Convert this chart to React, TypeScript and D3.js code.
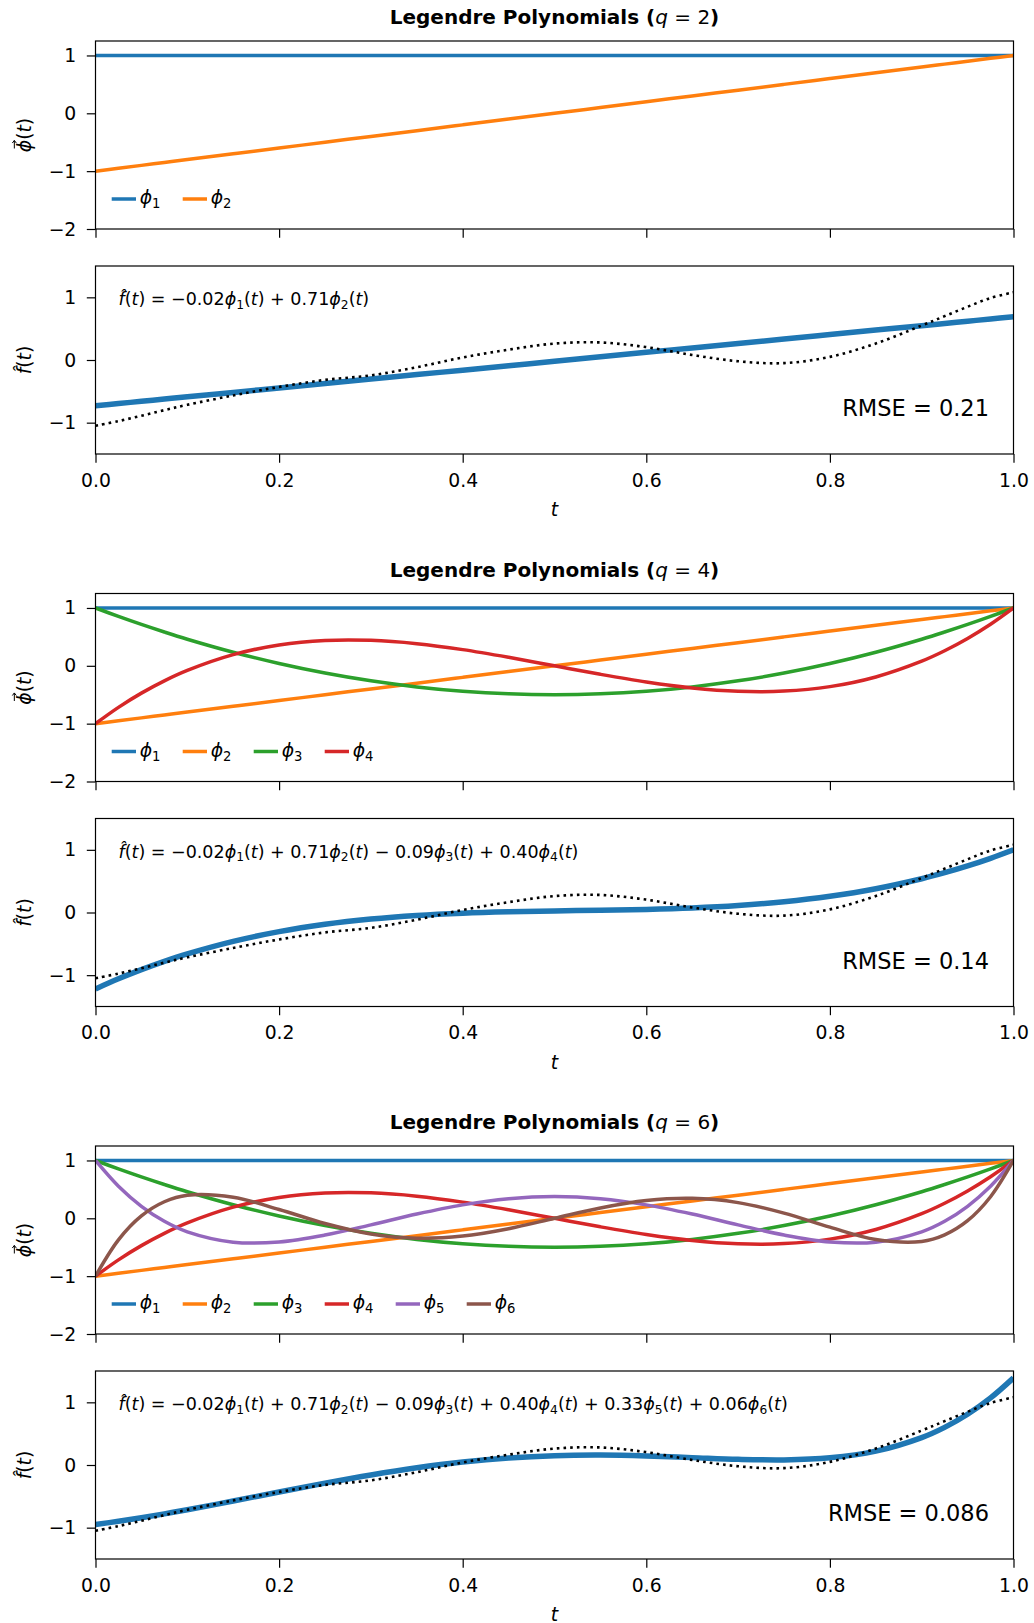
import React, { useEffect, useRef } from "react";
import * as d3 from "d3";

// sample positions along t (denser near the ends where the high-order polynomials bend)
const T = [0, 0.025, 0.05, 0.075, 0.1, 0.15, 0.2, 0.25, 0.3, 0.35, 0.4, 0.45, 0.5, 0.55, 0.6, 0.65, 0.7, 0.75, 0.8, 0.85, 0.9, 0.925, 0.95, 0.975, 1];

// shifted Legendre basis, read at the T positions
const PHI_1 = [1, 1, 1, 1, 1, 1, 1, 1, 1, 1, 1, 1, 1, 1, 1, 1, 1, 1, 1, 1, 1, 1, 1, 1, 1];
const PHI_2 = [-1, -0.95, -0.9, -0.85, -0.8, -0.7, -0.6, -0.5, -0.4, -0.3, -0.2, -0.1, 0, 0.1, 0.2, 0.3, 0.4, 0.5, 0.6, 0.7, 0.8, 0.85, 0.9, 0.95, 1];
const PHI_3 = [1, 0.854, 0.715, 0.584, 0.46, 0.235, 0.04, -0.125, -0.26, -0.365, -0.44, -0.485, -0.5, -0.485, -0.44, -0.365, -0.26, -0.125, 0.04, 0.235, 0.46, 0.584, 0.715, 0.854, 1];
const PHI_4 = [-1, -0.718, -0.4725, -0.26, -0.08, 0.1925, 0.36, 0.4375, 0.44, 0.3825, 0.28, 0.1475, 0, -0.1475, -0.28, -0.3825, -0.44, -0.4375, -0.36, -0.1925, 0.08, 0.26, 0.4725, 0.718, 1];
const PHI_5 = [1, 0.554, 0.208, -0.051, -0.233, -0.412, -0.408, -0.289, -0.113, 0.073, 0.232, 0.338, 0.375, 0.338, 0.232, 0.073, -0.113, -0.289, -0.408, -0.412, -0.233, -0.051, 0.208, 0.554, 1];
const PHI_6 = [-1, -0.373, 0.041, 0.286, 0.3995, 0.365, 0.153, -0.09, -0.271, -0.345, -0.3075, -0.179, 0, 0.179, 0.3075, 0.345, 0.271, 0.09, -0.153, -0.365, -0.3995, -0.286, -0.041, 0.373, 1];
const BASIS = [PHI_1, PHI_2, PHI_3, PHI_4, PHI_5, PHI_6];

// dotted target signal
const TARGET = [-1.05, -0.975, -0.89, -0.8, -0.715, -0.566, -0.43, -0.318, -0.245, -0.115, 0.04, 0.165, 0.262, 0.28, 0.205, 0.08, -0.02, -0.05, 0.05, 0.263, 0.55, 0.7, 0.85, 0.99, 1.08];

// fitted curves for q = 2, 4, 6
const FIT_Q2 = [-0.73, -0.6945, -0.659, -0.6235, -0.588, -0.517, -0.446, -0.375, -0.304, -0.233, -0.162, -0.091, -0.02, 0.051, 0.122, 0.193, 0.264, 0.335, 0.406, 0.477, 0.548, 0.5835, 0.619, 0.6545, 0.69];
const FIT_Q4 = [-1.22, -1.0586, -0.9124, -0.7801, -0.6614, -0.4612, -0.3056, -0.1887, -0.1046, -0.0471, -0.0104, 0.0117, 0.025, 0.0357, 0.0496, 0.0729, 0.1114, 0.1713, 0.2584, 0.3788, 0.5386, 0.6349, 0.7436, 0.8648, 1.0];
const FIT_Q6 = [-0.95, -0.8982, -0.8413, -0.7797, -0.7143, -0.5753, -0.431, -0.2895, -0.1582, -0.0437, 0.0477, 0.1125, 0.1488, 0.1579, 0.1447, 0.1177, 0.0904, 0.0813, 0.1146, 0.2209, 0.4377, 0.6009, 0.8097, 1.07, 1.39];
const FITS = [FIT_Q2, FIT_Q4, FIT_Q6];

const Q_VALUES = [2, 4, 6];
const COEFS = [-0.02, 0.71, -0.09, 0.4, 0.33, 0.06];
const RMSE_LABELS = ["0.21", "0.14", "0.086"];

const X_TICKS = [0, 0.2, 0.4, 0.6, 0.8, 1.0];
const BASIS_Y_TICKS = [-2, -1, 0, 1];
const FIT_Y_TICKS = [-1, 0, 1];

const COLORS = ["#1f77b4", "#ff7f0e", "#2ca02c", "#d62728", "#9467bd", "#8c564b"];

const FONT = "'DejaVu Sans', sans-serif";
const TICK_FS = 18.8;
const LEFT = 95.5;
const RIGHT = 1013.5;
const GROUP_STEP = 552.5;

type Part = { s: string; it?: boolean; sub?: boolean; w?: string };

function writeMath(text: any, parts: Part[], size: number) {
  let shifted = false;
  parts.forEach((p) => {
    const ts = text.append("tspan").text(p.s);
    if (p.it) ts.attr("font-style", "italic");
    if (p.w) ts.attr("font-weight", p.w);
    if (p.sub) {
      ts.attr("font-size", size * 0.7).attr("dy", size * 0.22);
      shifted = true;
    } else if (shifted) {
      ts.attr("dy", -size * 0.22);
      shifted = false;
    }
  });
}

const phi = (k: number): Part[] => [
  { s: "\u03D5", it: true },
  { s: String(k), sub: true },
];

export default function App() {
  const ref = useRef<SVGSVGElement>(null);

  useEffect(() => {
    document.body.style.margin = "0";
    const svg = d3.select(ref.current);
    svg.selectAll("*").remove();

    const x = d3.scaleLinear().domain([0, 1]).range([LEFT, RIGHT]);
    const defs = svg.append("defs");

    // clip rects live in each group's own (translated) coordinates
    defs.append("clipPath").attr("id", "clipTop").append("rect")
      .attr("x", LEFT).attr("y", 41).attr("width", RIGHT - LEFT).attr("height", 188);
    defs.append("clipPath").attr("id", "clipBot").append("rect")
      .attr("x", LEFT).attr("y", 266).attr("width", RIGHT - LEFT).attr("height", 188);

    Q_VALUES.forEach((q, gi) => {
      const g = svg.append("g").attr("transform", `translate(0,${gi * GROUP_STEP})`);

      // title
      const title = g
        .append("text")
        .attr("x", (LEFT + RIGHT) / 2)
        .attr("y", 24)
        .attr("text-anchor", "middle")
        .attr("font-size", 20)
        .attr("font-weight", "bold")
        .style("white-space", "pre");
      writeMath(
        title,
        [
          { s: "Legendre Polynomials (" },
          { s: "q", it: true, w: "normal" },
          { s: ` = ${q}`, w: "normal" },
          { s: ")" },
        ],
        20
      );

      const line = (ys: any) =>
        d3
          .line<number>()
          .x((_, i) => x(T[i]))
          .y((d) => ys(d))
          .curve(d3.curveCatmullRom.alpha(0.5));

      // ---------- basis panel ----------
      const yTop = d3.scaleLinear().domain([-2, 1.25]).range([229, 41]);
      const top = g.append("g").attr("clip-path", "url(#clipTop)");
      BASIS.slice(0, q).forEach((vals, i) => {
        top
          .append("path")
          .attr("d", line(yTop)(vals))
          .attr("fill", "none")
          .attr("stroke", COLORS[i])
          .attr("stroke-width", 3.5);
      });

      const axTopY = g
        .append("g")
        .attr("transform", `translate(${LEFT},0)`)
        .call(d3.axisLeft(yTop).tickValues(BASIS_Y_TICKS).tickFormat(d3.format("d")).tickSize(8.7).tickSizeOuter(0).tickPadding(10.5));
      const axTopX = g
        .append("g")
        .attr("transform", `translate(0,229)`)
        .call(d3.axisBottom(x).tickValues(X_TICKS).tickFormat(() => "").tickSize(8.7).tickSizeOuter(0));
      [axTopY, axTopX].forEach((a) => {
        a.select(".domain").remove();
        a.selectAll("line").attr("stroke", "#000").attr("stroke-width", 1.2);
        a.selectAll("text").attr("font-size", TICK_FS).attr("font-family", FONT).attr("fill", "#000");
      });
      g.append("rect")
        .attr("x", LEFT)
        .attr("y", 41)
        .attr("width", RIGHT - LEFT)
        .attr("height", 188)
        .attr("fill", "none")
        .attr("stroke", "#000")
        .attr("stroke-width", 1.2);

      // legend
      BASIS.slice(0, q).forEach((_, i) => {
        const lx = 111.7 + i * 71;
        g.append("line")
          .attr("x1", lx)
          .attr("x2", lx + 24.3)
          .attr("y1", 199)
          .attr("y2", 199)
          .attr("stroke", COLORS[i])
          .attr("stroke-width", 3.5);
        const t = g.append("text").attr("x", lx + 28).attr("y", 204).attr("font-size", TICK_FS);
        writeMath(t, phi(i + 1), TICK_FS);
      });

      // y label with vector arrow
      const yl = g.append("g").attr("transform", `translate(30.5,135) rotate(-90)`);
      const ylt = yl.append("text").attr("text-anchor", "middle").attr("font-size", TICK_FS);
      writeMath(ylt, [{ s: "\u03D5", it: true }, { s: "(" }, { s: "t", it: true }, { s: ")" }], TICK_FS);
      const node = ylt.node() as SVGTextElement;
      const wAll = node.getComputedTextLength();
      const wPhi = node.getSubStringLength(0, 1);
      const ax0 = -wAll / 2 + wPhi * 0.3;
      const ax1 = -wAll / 2 + wPhi * 0.95;
      const ay = -TICK_FS * 0.86;
      yl.append("path")
        .attr("d", `M${ax0},${ay}L${ax1},${ay}M${ax1 - 2.6},${ay - 2}L${ax1},${ay}L${ax1 - 2.6},${ay + 2}`)
        .attr("fill", "none")
        .attr("stroke", "#000")
        .attr("stroke-width", 1);

      // ---------- fit panel ----------
      const yBot = d3.scaleLinear().domain([-1.5, 1.5]).range([454, 266]);
      const bot = g.append("g").attr("clip-path", "url(#clipBot)");
      bot
        .append("path")
        .attr("d", line(yBot)(FITS[gi]))
        .attr("fill", "none")
        .attr("stroke", COLORS[0])
        .attr("stroke-width", 5.5);
      bot
        .append("path")
        .attr("d", line(yBot)(TARGET))
        .attr("fill", "none")
        .attr("stroke", "#000")
        .attr("stroke-width", 2.6)
        .attr("stroke-dasharray", "2.6,4.1");

      const axBotY = g
        .append("g")
        .attr("transform", `translate(${LEFT},0)`)
        .call(d3.axisLeft(yBot).tickValues(FIT_Y_TICKS).tickFormat(d3.format("d")).tickSize(8.7).tickSizeOuter(0).tickPadding(10.5));
      const axBotX = g
        .append("g")
        .attr("transform", `translate(0,454)`)
        .call(d3.axisBottom(x).tickValues(X_TICKS).tickFormat(d3.format(".1f")).tickSize(8.7).tickSizeOuter(0).tickPadding(10.8));
      [axBotY, axBotX].forEach((a) => {
        a.select(".domain").remove();
        a.selectAll("line").attr("stroke", "#000").attr("stroke-width", 1.2);
        a.selectAll("text").attr("font-size", TICK_FS).attr("font-family", FONT).attr("fill", "#000");
      });
      g.append("rect")
        .attr("x", LEFT)
        .attr("y", 266)
        .attr("width", RIGHT - LEFT)
        .attr("height", 188)
        .attr("fill", "none")
        .attr("stroke", "#000")
        .attr("stroke-width", 1.2);

      // fit equation
      const eqParts: Part[] = [{ s: "f\u0302", it: true }, { s: "(" }, { s: "t", it: true }, { s: ") = " }];
      COEFS.slice(0, q).forEach((c, i) => {
        const sign = i === 0 ? (c < 0 ? "\u2212" : "") : c < 0 ? " \u2212 " : " + ";
        eqParts.push({ s: sign + Math.abs(c).toFixed(2) }, ...phi(i + 1), { s: "(" }, { s: "t", it: true }, { s: ")" });
      });
      const eq = g.append("text").attr("x", 118.5).attr("y", 305).attr("font-size", 17.5).style("white-space", "pre");
      writeMath(eq, eqParts, 17.5);

      g.append("text")
        .attr("x", 989)
        .attr("y", 416)
        .attr("text-anchor", "end")
        .attr("font-size", 22.5)
        .style("white-space", "pre")
        .text(`RMSE = ${RMSE_LABELS[gi]}`);

      // y label
      const yb = g
        .append("text")
        .attr("transform", `translate(30.5,360) rotate(-90)`)
        .attr("text-anchor", "middle")
        .attr("font-size", TICK_FS);
      writeMath(yb, [{ s: "f\u0302", it: true }, { s: "(" }, { s: "t", it: true }, { s: ")" }], TICK_FS);

      // x label
      g.append("text")
        .attr("x", (LEFT + RIGHT) / 2)
        .attr("y", 516)
        .attr("text-anchor", "middle")
        .attr("font-size", TICK_FS)
        .attr("font-style", "italic")
        .text("t");
    });
  }, []);

  return (
    <svg
      ref={ref}
      width={1034}
      height={1623}
      style={{ display: "block", background: "#fff" }}
      fontFamily={FONT}
    />
  );
}
